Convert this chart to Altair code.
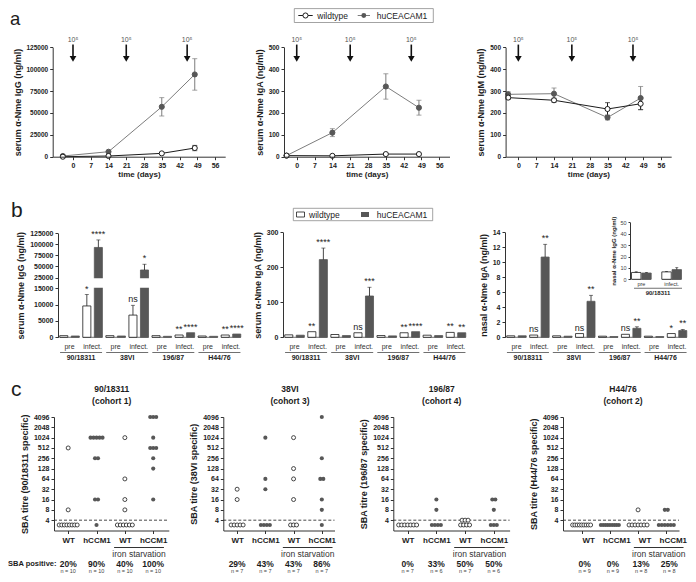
import altair as alt
import pandas as pd

FONT = "Liberation Sans"
W, H = 680, 566
INK = "#1c1c1c"
HU_FILL = "#575757"
HU_LINE = "#7d7d7d"
GENOS = ["wildtype", "huCEACAM1"]

# ---------------- panel a : serum antibody time courses ----------------
days = [-4, 14, 35, 48]
boost_days = [0, 21, 45]
time_ticks = [0, 7, 14, 21, 28, 35, 42, 49, 56]
igg_wt = [0, 800, 3800, 9900]
igg_wt_err = [0, 0, 900, 3000]
igg_hu = [800, 5700, 57000, 94000]
igg_hu_err = [0, 900, 10500, 18000]
iga_wt = [5, 4, 12, 12]
iga_wt_err = [0, 0, 0, 0]
iga_hu = [5, 110, 321, 224]
iga_hu_err = [0, 18, 58, 34]
igm_wt = [270, 258, 218, 242]
igm_wt_err = [8, 9, 29, 27]
igm_hu = [285, 288, 179, 268]
igm_hu_err = [12, 26, 11, 53]

# ---------------- panel b : pre / post infection ----------------
strains = ["90/18311", "38VI", "196/87", "H44/76"]
phases = ["pre", "infect."]
b_igg_wt = [500, 9600, 500, 6800, 500, 700, 400, 700]
b_igg_wt_err = [0, 3500, 0, 3000, 0, 0, 0, 0]
b_igg_hu = [400, 93000, 400, 42000, 300, 1400, 300, 1000]
b_igg_hu_err = [0, 17000, 0, 13000, 0, 0, 0, 0]
b_igg_st_wt = ["", "*", "", "ns", "", "**", "", "**"]
b_igg_st_hu = ["", "****", "", "*", "", "****", "", "****"]
b_iga_wt = [7, 16, 8, 13, 5, 13, 6, 14]
b_iga_wt_err = [0, 0, 0, 0, 0, 0, 0, 0]
b_iga_hu = [6, 222, 5, 118, 4, 16, 5, 13]
b_iga_hu_err = [0, 33, 0, 25, 0, 0, 0, 0]
b_iga_st_wt = ["", "**", "", "ns", "", "**", "", "**"]
b_iga_st_hu = ["", "****", "", "***", "", "****", "", "**"]
b_nas_wt = [0.2, 0.3, 0.2, 0.5, 0.15, 0.4, 0.15, 0.5]
b_nas_wt_err = [0, 0, 0, 0, 0, 0, 0, 0]
b_nas_hu = [0.2, 10.7, 0.15, 4.8, 0.1, 1.2, 0.1, 0.9]
b_nas_hu_err = [0, 1.7, 0, 0.8, 0, 0.2, 0, 0.15]
b_nas_st_wt = ["", "ns", "", "ns", "", "ns", "", "*"]
b_nas_st_hu = ["", "**", "", "**", "", "**", "", "**"]
inset_wt = [6, 6.5]
inset_wt_err = [0.6, 0.3]
inset_hu = [5.5, 8.5]
inset_hu_err = [0.4, 1.7]

# ---------------- panel c : SBA titres ----------------
NEG = 2.9  # plotting position of sera below the detection limit (4)
c_strains = ["90/18311", "38VI", "196/87", "H44/76"]
c_cohorts = ["(cohort 1)", "(cohort 3)", "(cohort 4)", "(cohort 2)"]
c_groups = ["WT", "hCCM1", "WT", "hCCM1"]
c1_titres = [[512, 8] + [NEG] * 8,
             [1024] * 5 + [256] * 2 + [16] * 2 + [NEG],
             [1024, 64, 16, 8] + [NEG] * 6,
             [4096] * 3 + [1024] + [512] * 3 + [256, 128, 16]]
c2_titres = [[32, 16] + [NEG] * 5,
             [1024, 64, 32] + [NEG] * 4,
             [1024, 128, 64, 16] + [NEG] * 3,
             [4096, 256, 64, 64, 16, 8, NEG]]
c3_titres = [[NEG] * 7,
             [16, 8] + [NEG] * 4,
             [4, 4, 4] + [NEG] * 4,
             [16, 16, 8] + [NEG] * 3]
c4_titres = [[NEG] * 9,
             [NEG] * 9,
             [8] + [NEG] * 7,
             [8, 8] + [NEG] * 6]
c_pct = [["20%", "90%", "40%", "100%"], ["29%", "43%", "43%", "86%"],
         ["0%", "33%", "50%", "50%"], ["0%", "0%", "13%", "25%"]]
c_n = [[10, 10, 10, 10], [7, 7, 7, 7], [7, 6, 7, 6], [9, 9, 8, 8]]
titre_ticks = [4, 8, 16, 32, 64, 128, 256, 512, 1024, 2048, 4096]


def P(v):
    return v - 8


FILL = alt.Scale(domain=GENOS, range=["#ffffff", HU_FILL])
STROKE = alt.Scale(domain=GENOS, range=[INK, HU_FILL])
LINE = alt.Scale(domain=GENOS, range=[INK, HU_LINE])


def ax(orient, pos, **kw):
    base = dict(orient=orient, grid=False, labelFont=FONT, titleFont=FONT,
                labelFontWeight="bold", titleFontWeight="bold", labelColor=INK,
                titleColor=INK, domainColor="#333333", tickColor="#333333",
                domainWidth=1, tickWidth=1, tickSize=3, labelPadding=2,
                titlePadding=4, labelOverlap=False, labelFlush=False,
                labelFontSize=7, titleFontSize=9, zindex=1)
    base["offset"] = -P(pos) if orient == "left" else P(pos) - H
    base.update(kw)
    return alt.Axis(**base)


def one(**cols):
    return alt.Chart(pd.DataFrame({k: [v] for k, v in cols.items()}))


def text_at(txt, x, y, size, weight="normal", align="center", baseline="middle", color=INK):
    return one(t=txt).mark_text(fontSize=size, fontWeight=weight, align=align,
                                baseline=baseline, color=color, font=FONT).encode(
        x=alt.value(P(x)), y=alt.value(P(y)), text="t:N")


# ---------------- panel a ----------------
A_Y0, A_Y1 = 156.7, 47.3


def line_panel(wt, wt_err, hu, hu_err, xdom, x0, x1, ymax, ystep, ytitle):
    rows = []
    for g, vals, errs in (("huCEACAM1", hu, hu_err), ("wildtype", wt, wt_err)):
        for d, v, e in zip(days, vals, errs):
            rows.append({"day": d, "geno": g, "v": v, "lo": v - e, "hi": v + e, "e": e})
    df = pd.DataFrame(rows)
    xs = alt.Scale(domain=xdom, range=[P(x0), P(x1)], nice=False, zero=False)
    ys = alt.Scale(domain=[0, ymax], range=[P(A_Y0), P(A_Y1)], nice=False, zero=False)
    xax = ax("bottom", A_Y0, values=time_ticks, title="time (days)",
             titleFontSize=8, labelFontSize=7, titlePadding=2)
    yax = ax("left", x0, values=list(range(0, ymax + 1, ystep)),
             title=ytitle, format="d", labelFontSize=6.5)
    X = alt.X("day:Q", scale=xs, axis=xax)

    def Y(f):
        return alt.Y(f, scale=ys, axis=yax)

    col = alt.Color("geno:N", scale=LINE, legend=None)
    base = alt.Chart(df)
    eb = base.transform_filter("datum.e > 0")
    err = eb.mark_rule(strokeWidth=1).encode(X, Y("lo:Q"), alt.Y2("hi:Q"), color=col)
    caps = [eb.mark_tick(orient="horizontal", size=5, thickness=1).encode(
        X, Y(f"{c}:Q"), color=col) for c in ("lo", "hi")]
    line = base.mark_line(strokeWidth=1).encode(X, Y("v:Q"), color=col, detail="geno:N")
    pts = base.mark_point(shape="circle", filled=True, size=26, strokeWidth=1, opacity=1).encode(
        X, Y("v:Q"),
        fill=alt.Fill("geno:N", scale=FILL, legend=None),
        stroke=alt.Stroke("geno:N", scale=STROKE, legend=None))
    arr = alt.Chart(pd.DataFrame({"day": boost_days, "lab": ["10⁵"] * 3}))
    shaft = arr.mark_rule(strokeWidth=1.6, color="#111").encode(
        X, alt.YDatum(1.025 * ymax, scale=ys, axis=yax), alt.Y2Datum(0.915 * ymax))
    head = arr.mark_point(shape="triangle-down", filled=True, size=45, color="#111", opacity=1).encode(
        X, alt.YDatum(0.895 * ymax, scale=ys, axis=yax))
    lab = arr.mark_text(fontSize=7, color="#555", font=FONT).encode(
        X, alt.YDatum(1.07 * ymax, scale=ys, axis=yax), text="lab:N")
    return alt.layer(err, *caps, line, pts, shaft, head, lab)


# ---------------- panel b ----------------
B_Y0 = 337.3


def bar_panel(wt, wt_err, hu, hu_err, st_wt, st_hu, groups, labels, x0, x1, ys, yaxis,
              pin, pout, opin, star_size, cap, seg, lab_y, lab_size, brk=None):
    rows = []
    for i, gk in enumerate(groups):
        for g, vals, errs, st in (("wildtype", wt, wt_err, st_wt), ("huCEACAM1", hu, hu_err, st_hu)):
            rows.append({"grp": gk, "geno": g, "v": vals[i], "e": errs[i],
                         "top": vals[i] + errs[i], "star": st[i]})
    df = pd.DataFrame(rows)
    xs = alt.Scale(domain=groups, range=[P(x0), P(x1)], paddingInner=pin, paddingOuter=pout)
    X = alt.X("grp:N", scale=xs, axis=None)
    XO = alt.XOffset("geno:N", scale=alt.Scale(domain=GENOS, paddingInner=opin))

    def Y(f):
        return alt.Y(f, scale=ys, axis=yaxis)

    base = alt.Chart(df)
    bars = base.mark_bar(strokeWidth=0.8).encode(
        X, XO, Y("v:Q"),
        fill=alt.Fill("geno:N", scale=FILL, legend=None),
        stroke=alt.Stroke("geno:N", scale=STROKE, legend=None))
    eb = base.transform_filter("datum.e > 0")
    err = eb.mark_rule(color=INK, strokeWidth=0.8).encode(X, XO, Y("v:Q"), alt.Y2("top:Q"))
    caps = eb.mark_tick(orient="horizontal", size=cap, thickness=0.8, color=INK).encode(
        X, XO, Y("top:Q"))
    stars = base.transform_filter("datum.star != ''").mark_text(
        baseline="bottom", dy=-1, fontSize=star_size, font=FONT, color=INK).encode(
        X, XO, Y("top:Q"), text="star:N")
    gdf = alt.Chart(pd.DataFrame({"grp": groups, "lab": labels}))
    segs = gdf.mark_tick(orient="horizontal", size=seg, thickness=1, color="#333").encode(
        X, alt.YDatum(0, scale=ys, axis=yaxis))
    labs = gdf.mark_text(fontSize=lab_size, font=FONT, color="#333").encode(
        X, y=alt.value(P(lab_y)), text="lab:N")
    parts = [segs, bars, err, caps]
    if brk is not None:
        lo, hi, bx0, bx1 = brk
        parts.append(one(a=0).mark_rect(fill="white").encode(
            x=alt.value(P(bx0)), x2=alt.value(P(bx1)),
            y=alt.YDatum(lo, scale=ys, axis=yaxis), y2=alt.Y2Datum(hi)))
    parts += [stars, labs]
    return alt.layer(*parts)


def strain_layer(names, x0, x1, line_y, text_y, line_size, font_size):
    xs = alt.Scale(domain=names, range=[P(x0), P(x1)], paddingInner=0, paddingOuter=0)
    X = alt.X("s:N", scale=xs, axis=None)
    c = alt.Chart(pd.DataFrame({"s": names}))
    ln = c.mark_tick(orient="horizontal", size=line_size, thickness=1, color="#333").encode(
        X, y=alt.value(P(line_y)))
    tx = c.mark_text(fontSize=font_size, fontWeight="bold", font=FONT, color=INK).encode(
        X, y=alt.value(P(text_y)), text="s:N")
    return alt.layer(ln, tx)


groups = [f"{s}|{p}" for s in strains for p in phases]
glabels = [p for s in strains for p in phases]

B_LAB, B_LINE, B_STR = 347.0, 352.5, 357.8

ys_b1 = alt.Scale(domain=[0, 15000, 25000, 125000],
                  range=[P(B_Y0), P(288.3), P(277.5), P(233.3)], nice=False, zero=False)
b1_axis = ax("left", 58, values=[0, 5000, 10000, 15000, 25000, 50000, 75000, 100000, 125000],
             format="d", title="serum α-Nme IgG (ng/ml)", labelFontSize=7)
b1 = bar_panel(b_igg_wt, b_igg_wt_err, b_igg_hu, b_igg_hu_err, b_igg_st_wt, b_igg_st_hu,
               groups, glabels, 58, 242.5, ys_b1, b1_axis, 0.15, 0.075, 0.3, 9, 4, 19.5,
               B_LAB, 7, brk=(15600, 24400, 55, 243))

ys_b2 = alt.Scale(domain=[0, 300], range=[P(B_Y0), P(232.3)], nice=False, zero=False)
b2 = bar_panel(b_iga_wt, b_iga_wt_err, b_iga_hu, b_iga_hu_err, b_iga_st_wt, b_iga_st_hu,
               groups, glabels, 283, 467.5, ys_b2,
               ax("left", 283, values=[0, 100, 200, 300], title="serum α-Nme IgA (ng/ml)", labelFontSize=7),
               0.15, 0.075, 0.3, 9, 4, 19.5, B_LAB, 7)

ys_b3 = alt.Scale(domain=[0, 14], range=[P(B_Y0), P(232.3)], nice=False, zero=False)
b3 = bar_panel(b_nas_wt, b_nas_wt_err, b_nas_hu, b_nas_hu_err, b_nas_st_wt, b_nas_st_hu,
               groups, glabels, 505, 688.5, ys_b3,
               ax("left", 505, values=list(range(0, 15, 2)), title="nasal α-Nme IgA (ng/ml)", labelFontSize=7),
               0.15, 0.075, 0.3, 9, 4, 19.5, B_LAB, 7)

ys_in = alt.Scale(domain=[0, 50], range=[P(279.3), P(222.3)], nice=False, zero=False)
inset = bar_panel(inset_wt, inset_wt_err, inset_hu, inset_hu_err, ["", ""], ["", ""],
                  ["pre", "infect."], ["pre", "infect."], 630, 683, ys_in,
                  ax("left", 630, values=[0, 10, 20, 30, 40, 50], title="nasal α-Nme IgG (ng/ml)",
                     labelFontSize=5.5, titleFontSize=6, labelFontWeight="normal",
                     tickSize=2, titlePadding=3, labelColor="#444"),
                  0.35, 0.05, 0.08, 6, 3, 19, 284.3, 5.5)

legend_b = alt.layer(
    one(a=0).mark_rect(fill="white", stroke="#8c8c8c", strokeWidth=0.8).encode(
        x=alt.value(P(293.3)), x2=alt.value(P(432.7)), y=alt.value(P(208.3)), y2=alt.value(P(220.7))),
    one(a=0).mark_rect(fill="white", stroke=INK, strokeWidth=0.8).encode(
        x=alt.value(P(296.5)), x2=alt.value(P(304.5)), y=alt.value(P(212)), y2=alt.value(P(217))),
    text_at("wildtype", 309, 214.6, 8.5, align="left"),
    one(a=0).mark_rect(fill=HU_FILL).encode(
        x=alt.value(P(361)), x2=alt.value(P(369)), y=alt.value(P(212)), y2=alt.value(P(217))),
    text_at("huCEACAM1", 376.7, 214.6, 8.5, align="left"),
)

LA_Y = 15.5
legend_a = alt.layer(
    one(a=0).mark_rect(fill="white", stroke="#8c8c8c", strokeWidth=0.8).encode(
        x=alt.value(P(294.3)), x2=alt.value(P(433.3)), y=alt.value(P(8.6)), y2=alt.value(P(22.5))),
    one(a=0).mark_rule(color=INK, strokeWidth=1).encode(
        x=alt.value(P(298.3)), x2=alt.value(P(312.7)), y=alt.value(P(LA_Y))),
    one(a=0).mark_point(shape="circle", filled=True, fill="white", stroke=INK, size=26,
                        strokeWidth=1, opacity=1).encode(x=alt.value(P(305.5)), y=alt.value(P(LA_Y))),
    text_at("wildtype", 317.3, LA_Y + 0.2, 8.5, align="left"),
    one(a=0).mark_rule(color=HU_LINE, strokeWidth=1).encode(
        x=alt.value(P(357.7)), x2=alt.value(P(370)), y=alt.value(P(LA_Y))),
    one(a=0).mark_circle(size=24, color=HU_FILL, opacity=1).encode(
        x=alt.value(P(363.8)), y=alt.value(P(LA_Y))),
    text_at("huCEACAM1", 376.7, LA_Y + 0.2, 8.5, align="left"),
)

# ---------------- panel c ----------------
C_Y0, C_Y1 = 530.5, 417.0
C_IRON_LINE, C_IRON_TXT, C_PCT, C_N = 547.5, 554.0, 563.5, 570.6


def sba_panel(titres, x0, x1, xdom, ytitle, t1, t2, tx, pcts, ns, label_offset=0, pct_dx=0):
    step = (x1 - x0) / (xdom[1] - xdom[0])
    rows = [{"g": gi, "v": v} for gi, vals in enumerate(titres) for v in vals]
    df = pd.DataFrame(rows)
    df["k"] = df.groupby(["g", "v"]).cumcount()
    df["m"] = df.groupby(["g", "v"])["v"].transform("size")
    sp = df["m"].apply(lambda m: 3.0 if m <= 6 else 18.0 / (m - 1))
    df["xpos"] = df["g"] + (df["k"] - (df["m"] - 1) / 2) * sp / step
    df["kind"] = df["g"].apply(lambda g: "open" if g % 2 == 0 else "filled")
    xs = alt.Scale(domain=xdom, range=[P(x0), P(x1)], nice=False, zero=False)
    ys = alt.Scale(type="log", base=2, domain=[2, 4096], range=[P(C_Y0), P(C_Y1)], nice=False)
    shift = label_offset / step
    xaxis = ax("bottom", C_Y0, values=[0, 1, 2, 3], title=None,
               labelExpr="['WT','hCCM1','WT','hCCM1'][datum.value]",
               labelFontSize=8, labelPadding=3, labelOffset=label_offset)
    yaxis = ax("left", x0, values=titre_ticks, format="d", title=ytitle, labelFontSize=7)

    def X(f):
        return alt.X(f, scale=xs, axis=xaxis)

    def Y(f):
        return alt.Y(f, scale=ys, axis=yaxis)

    base = alt.Chart(df)
    openp = base.transform_filter("datum.kind == 'open'").mark_point(
        shape="circle", size=16, strokeWidth=0.8, color=INK, fill="white", filled=False, opacity=1).encode(
        X("xpos:Q"), Y("v:Q"))
    fillp = base.transform_filter("datum.kind == 'filled'").mark_circle(
        size=17, color=HU_FILL, opacity=1).encode(X("xpos:Q"), Y("v:Q"))
    dash = one(a=xdom[0], b=xdom[1]).mark_rule(strokeDash=[3, 2], strokeWidth=0.8, color=INK).encode(
        X("a:Q"), alt.X2("b:Q"), alt.YDatum(4, scale=ys, axis=yaxis))
    iron = one(a=1.62 + shift, b=3.38 + shift).mark_rule(strokeWidth=1, color="#333").encode(
        X("a:Q"), alt.X2("b:Q"), y=alt.value(P(C_IRON_LINE)))
    iron_t = one(a=2.5 + shift, t="iron starvation").mark_text(fontSize=8.5, font=FONT, color="#333").encode(
        X("a:Q"), y=alt.value(P(C_IRON_TXT)), text="t:N")
    pdf = alt.Chart(pd.DataFrame({"g": [0, 1, 2, 3], "pct": pcts, "n": [f"n = {n}" for n in ns]}))
    pct = pdf.mark_text(fontSize=8.5, fontWeight="bold", font=FONT, color=INK, dx=pct_dx).encode(
        X("g:Q"), y=alt.value(P(C_PCT)), text="pct:N")
    nn = pdf.mark_text(fontSize=5.5, font=FONT, color="#444", dx=pct_dx).encode(
        X("g:Q"), y=alt.value(P(C_N)), text="n:N")
    return alt.layer(dash, openp, fillp, iron, iron_t, pct, nn,
                     text_at(t1, tx, 389, 8.5, "bold"), text_at(t2, tx, 400.5, 8.5, "bold"))


c1 = sba_panel(c1_titres, 54, 168.8, [-0.5, 3.55], "SBA titre (90/18311 specific)",
               c_strains[0], c_cohorts[0], 111.7, c_pct[0], c_n[0])
c2 = sba_panel(c2_titres, 223.3, 334.5, [-0.49, 3.45], "SBA titre (38VI specific)",
               c_strains[1], c_cohorts[1], 290, c_pct[1], c_n[1])
c3 = sba_panel(c3_titres, 393.3, 509.6, [-0.5, 3.55], "SBA titre (196/87 specific)",
               c_strains[2], c_cohorts[2], 441.7, c_pct[2], c_n[2])
c4 = sba_panel(c4_titres, 563, 679, [-0.66, 3.45], "SBA titre (H44/76 specific)",
               c_strains[3], c_cohorts[3], 623, c_pct[3], c_n[3], label_offset=6.5, pct_dx=3)

a1 = line_panel(igg_wt, igg_wt_err, igg_hu, igg_hu_err, [-8, 60], 52.7, 225.2, 125000, 25000,
                "serum α-Nme IgG (ng/ml)")
a2 = line_panel(iga_wt, iga_wt_err, iga_hu, iga_hu_err, [-5, 60], 284, 449.5, 500, 100,
                "serum α-Nme IgA (ng/ml)")
a3 = line_panel(igm_wt, igm_wt_err, igm_hu, igm_hu_err, [-5, 60], 505.6, 671.2, 500, 100,
                "serum α-Nme IgM (ng/ml)")

layers = [
    text_at("a", 10, 24.8, 18.5, align="left", baseline="alphabetic"),
    text_at("b", 11, 217, 21, align="left", baseline="alphabetic"),
    text_at("c", 11, 396, 21, align="left", baseline="alphabetic"),
    legend_a, a1, a2, a3,
    b1, b2, b3, inset, legend_b,
    strain_layer(strains, 58, 242.5, B_LINE, B_STR, 42, 7),
    strain_layer(strains, 283, 467.5, B_LINE, B_STR, 42, 7),
    strain_layer(strains, 505, 688.5, B_LINE, B_STR, 42, 7),
    strain_layer(["90/18311"], 633, 683, 288.3, 292.9, 48, 6),
    c1, c2, c3, c4,
    text_at("SBA positive:", 8, C_PCT, 7.5, "bold", align="left"),
]

chart = alt.layer(*layers).resolve_scale(
    x="independent", y="independent", xOffset="independent"
).properties(
    width=W, height=H, padding=0, autosize=alt.AutoSizeParams(type="none")
).configure_view(stroke=None)

chart.save("out.html", embed_options={"renderer": "svg", "actions": False})
